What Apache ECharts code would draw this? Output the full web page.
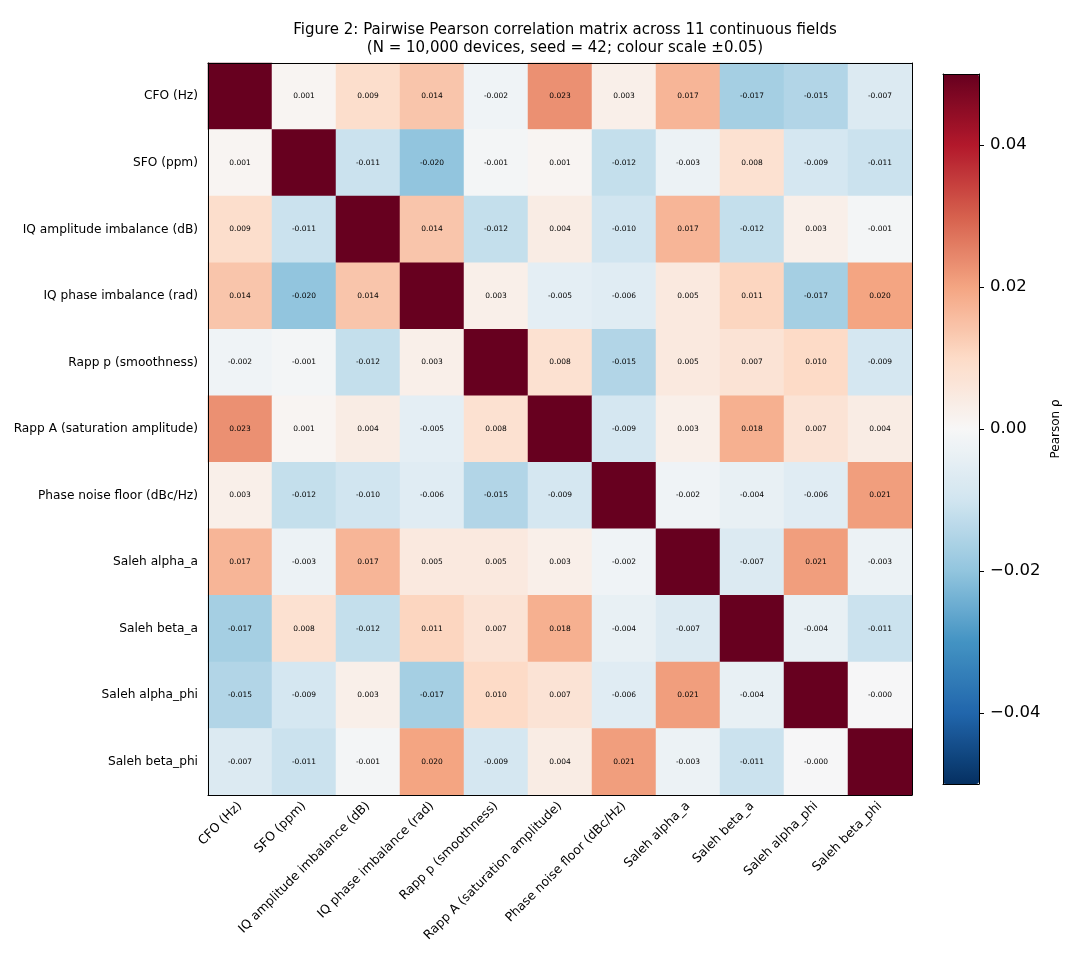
<!DOCTYPE html>
<html lang="en">
<head>
    <meta charset="UTF-8">
    <title>Pearson correlation matrix</title>
    <script src="https://cdn.jsdelivr.net/npm/echarts@6/dist/echarts.min.js"></script>
</head>
<body style="margin:0">
    <div id="box" style="width:1080px; height:960px;"></div>
</body>
<script>
    // field names (rows top to bottom, columns left to right)
    var fields = ['CFO (Hz)', 'SFO (ppm)', 'IQ amplitude imbalance (dB)', 'IQ phase imbalance (rad)',
        'Rapp p (smoothness)', 'Rapp A (saturation amplitude)', 'Phase noise floor (dBc/Hz)',
        'Saleh alpha_a', 'Saleh beta_a', 'Saleh alpha_phi', 'Saleh beta_phi']

    // correlation rows
    var rowCFO    = [1, 0.001, 0.009, 0.014, -0.002, 0.023, 0.003, 0.017, -0.017, -0.015, -0.007]
    var rowSFO    = [0.001, 1, -0.011, -0.020, -0.001, 0.001, -0.012, -0.003, 0.008, -0.009, -0.011]
    var rowIQamp  = [0.009, -0.011, 1, 0.014, -0.012, 0.004, -0.010, 0.017, -0.012, 0.003, -0.001]
    var rowIQph   = [0.014, -0.020, 0.014, 1, 0.003, -0.005, -0.006, 0.005, 0.011, -0.017, 0.020]
    var rowRappP  = [-0.002, -0.001, -0.012, 0.003, 1, 0.008, -0.015, 0.005, 0.007, 0.010, -0.009]
    var rowRappA  = [0.023, 0.001, 0.004, -0.005, 0.008, 1, -0.009, 0.003, 0.018, 0.007, 0.004]
    var rowPN     = [0.003, -0.012, -0.010, -0.006, -0.015, -0.009, 1, -0.002, -0.004, -0.006, 0.021]
    var rowAlphaA = [0.017, -0.003, 0.017, 0.005, 0.005, 0.003, -0.002, 1, -0.007, 0.021, -0.003]
    var rowBetaA  = [-0.017, 0.008, -0.012, 0.011, 0.007, 0.018, -0.004, -0.007, 1, -0.004, -0.011]
    var rowAlphaP = [-0.015, -0.009, 0.003, -0.017, 0.010, 0.007, -0.006, 0.021, -0.004, 1, -0.0003]
    var rowBetaP  = [-0.007, -0.011, -0.001, 0.020, -0.009, 0.004, 0.021, -0.003, -0.011, -0.0003, 1]

    var rows = [rowCFO, rowSFO, rowIQamp, rowIQph, rowRappP, rowRappA, rowPN, rowAlphaA, rowBetaA, rowAlphaP, rowBetaP]

    // colour bar ticks
    var cbarTicks = [-0.04, -0.02, 0, 0.02, 0.04]

    var cells = []
    for (var i = 0; i < rows.length; i++) {
        for (var j = 0; j < rows[i].length; j++) {
            cells.push([j, i, rows[i][j]])
        }
    }

    var font = 'DejaVu Sans'
    var mEcharts = echarts.init(document.querySelector('#box'))
    var option = {
        animation: false,
        textStyle: { fontFamily: font, color: '#000' },
        title: {
            text: 'Figure 2: Pairwise Pearson correlation matrix across 11 continuous fields\n(N = 10,000 devices, seed = 42; colour scale \u00b10.05)',
            left: 560, top: 16, textAlign: 'center',
            textStyle: { fontFamily: font, fontSize: 15, fontWeight: 'normal', color: '#000', lineHeight: 18 }
        },
        grid: [
            { left: 208, top: 63, width: 704, height: 732 },
            { left: 943, top: 74, width: 36, height: 710 }
        ],
        xAxis: [{
            type: 'category', gridIndex: 0, data: fields, position: 'bottom', z: 5,
            axisLine: { lineStyle: { color: '#000', width: 1 } },
            axisTick: { alignWithLabel: true, length: 4, lineStyle: { color: '#000' } },
            axisLabel: { rotate: 45, fontSize: 12.5, color: '#000', margin: 9, fontFamily: font, interval: 0 },
            splitLine: { show: false }
        }, {
            type: 'category', gridIndex: 0, data: fields, position: 'top', z: 5,
            axisLine: { lineStyle: { color: '#000', width: 1 } },
            axisTick: { show: false }, axisLabel: { show: false }
        }, {
            type: 'value', gridIndex: 1, min: 0, max: 1, position: 'bottom', z: 10,
            axisLine: { onZero: false, lineStyle: { color: '#000' } },
            axisTick: { show: false }, axisLabel: { show: false }, splitLine: { show: false }
        }, {
            type: 'value', gridIndex: 1, min: 0, max: 1, position: 'top', z: 10,
            axisLine: { onZero: false, lineStyle: { color: '#000' } },
            axisTick: { show: false }, axisLabel: { show: false }, splitLine: { show: false }
        }],
        yAxis: [{
            type: 'category', gridIndex: 0, data: fields, inverse: true, position: 'left', z: 5,
            axisLine: { lineStyle: { color: '#000', width: 1 } },
            axisTick: { alignWithLabel: true, length: 4, lineStyle: { color: '#000' } },
            axisLabel: { fontSize: 12.2, color: '#000', margin: 10, fontFamily: font, interval: 0 },
            splitLine: { show: false }
        }, {
            type: 'category', gridIndex: 0, data: fields, inverse: true, position: 'right', z: 5,
            axisLine: { lineStyle: { color: '#000', width: 1 } },
            axisTick: { show: false }, axisLabel: { show: false }
        }, {
            type: 'value', gridIndex: 1, min: -0.05, max: 0.05, position: 'right', z: 10,
            axisLine: { onZero: false, lineStyle: { color: '#000' } },
            axisTick: { length: 5, lineStyle: { color: '#000' }, customValues: cbarTicks },
            axisLabel: {
                fontSize: 16.5, color: '#000', margin: 11, fontFamily: font, customValues: cbarTicks,
                formatter: function (v) { return v.toFixed(2).replace('-', '\u2212') }
            },
            splitLine: { show: false },
            name: 'Pearson \u03c1', nameLocation: 'middle', nameRotate: 90, nameGap: 71,
            nameTextStyle: { fontSize: 12, color: '#000', fontFamily: font }
        }, {
            type: 'value', gridIndex: 1, min: -0.05, max: 0.05, position: 'left', z: 10,
            axisLine: { onZero: false, lineStyle: { color: '#000' } },
            axisTick: { show: false }, axisLabel: { show: false }, splitLine: { show: false }
        }],
        visualMap: {
            type: 'continuous', min: -0.05, max: 0.05, seriesIndex: 0,
            left: 943, top: 74, itemWidth: 36, itemHeight: 710, padding: 0,
            calculable: false, hoverLink: false, orient: 'vertical',
            inRange: {
                color: ['#053061', '#2166ac', '#4393c3', '#92c5de', '#d1e5f0', '#f7f7f7',
                    '#fddbc7', '#f4a582', '#d6604d', '#b2182b', '#67001f']
            }
        },
        series: [{
            type: 'heatmap', xAxisIndex: 0, yAxisIndex: 0, data: cells,
            label: {
                show: true, fontSize: 7.5, color: '#000', fontFamily: font,
                formatter: function (p) {
                    if (p.value[0] === p.value[1]) return ''
                    return p.value[2].toFixed(3)
                }
            },
            emphasis: { disabled: true }
        }]
    }
    mEcharts.setOption(option)
</script>
</html>
